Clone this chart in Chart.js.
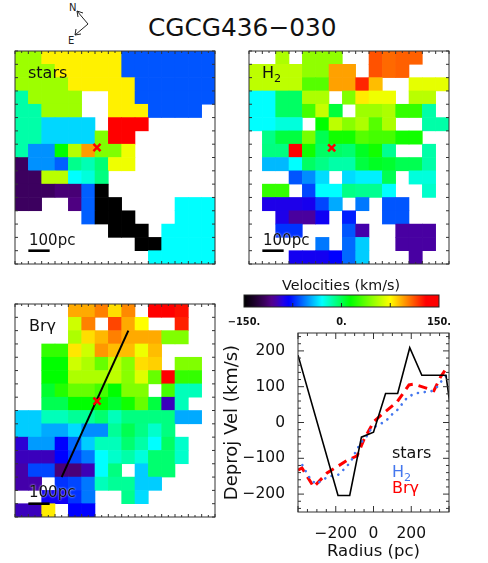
<!DOCTYPE html>
<html>
<head>
<meta charset="utf-8">
<script src="https://cdn.jsdelivr.net/npm/chart.js@4"></script>
<style>
  html, body { margin: 0; padding: 0; background: #fff; }
  body { position: relative; width: 488px; height: 563px; overflow: hidden; font-family: "DejaVu Sans", sans-serif; color: #111; }
  canvas { position: absolute; }
  .lab { position: absolute; white-space: nowrap; line-height: 1; }
  .lab sub { font-size: 70%; line-height: 0; }
  .pc { font-size: 15px; text-shadow: 0 0 2px #fff; }
  svg { position: absolute; left: 0; top: 0; }
</style>
</head>
<body>
<svg width="130" height="48">
  <g fill="none" stroke="#222" stroke-width="1">
    <path d="M88 24 L77 11 M77 11 L83 13 M77 11 L78 17"/>
    <path d="M88 24 L75 35 M75 35 L81 34 M75 35 L76 29"/>
  </g>
  <text x="69" y="11" font-size="10" fill="#222" font-family="DejaVu Sans">N</text>
  <text x="68" y="44" font-size="10" fill="#222" font-family="DejaVu Sans">E</text>
</svg>
<div class="lab" style="left:148px;top:16px;font-size:24.8px;">CGCG436−030</div>

<canvas id="stars"></canvas>
<canvas id="h2"></canvas>
<canvas id="brg"></canvas>
<canvas id="cbar"></canvas>
<canvas id="rot"></canvas>

<div class="lab" style="left:28px;top:65px;font-size:16px;">stars</div>
<div class="lab" style="left:262px;top:65px;font-size:16px;">H<sub>2</sub></div>
<div class="lab" style="left:29px;top:318px;font-size:16px;">Brγ</div>
<div class="lab pc" style="left:29px;top:233px;">100pc</div>
<div class="lab pc" style="left:263px;top:233px;">100pc</div>
<div class="lab pc" style="left:29px;top:485px;">100pc</div>
<div class="lab" style="left:282px;top:278px;font-size:14.3px;">Velocities (km/s)</div>
<div class="lab" style="left:392px;top:445px;font-size:16px;">stars</div>
<div class="lab" style="left:392px;top:464px;font-size:16px;color:#4477ee;">H<sub>2</sub></div>
<div class="lab" style="left:392px;top:480px;font-size:16px;color:#ff0000;">Brγ</div>

<script>
const _ = null;

// velocity maps, 15 columns x 16 rows, top row first (km/s)
const starsMap = [
  [51,51,78,78,78,78,78,78,-64,-64,-64,-64,-64,-64,-64],
  [51,51,51,78,78,78,78,78,-64,-64,-64,-64,-64,-64,-64],
  [51,51,51,51,78,78,78,78,78,-64,-64,-64,-64,-64,-64],
  [-15,51,51,51,51,_,_,78,78,-64,-64,-64,-64,-64,-64],
  [-15,-15,51,51,51,_,_,78,78,78,-64,-64,-64,-64,_],
  [-15,-15,-38,-38,-38,-38,_,130,130,130,_,_,_,_,_],
  [-15,-15,-38,-38,-38,-38,44,130,130,_,_,_,_,_,_],
  [-15,-52,-52,14,57,96,44,44,71,_,_,_,_,_,_],
  [-118,-52,-52,-62,-10,-17,-6,71,71,_,_,_,_,_,_],
  [-118,-118,58,58,-30,-24,-8,_,_,_,_,_,_,_,_],
  [-118,-118,-118,-113,-113,-62,-150,_,_,_,_,_,_,_,_],
  [-118,-118,_,_,-110,-62,-150,-150,_,_,_,_,-30,-30,-30],
  [_,_,_,_,_,-62,-150,-150,-150,_,_,_,-30,-30,-30],
  [_,_,_,_,_,_,_,-150,-150,-150,_,-30,-30,-30,-30],
  [_,_,_,_,_,_,_,_,_,-150,-150,-30,-30,-30,-30],
  [_,_,_,_,_,_,_,_,_,_,-30,-30,-30,-30,-30]
];
const h2Map = [
  [_,_,55,_,48,48,48,_,_,112,107,109,109,_,_],
  [59,59,59,59,48,48,95,95,_,112,107,109,_,_,_],
  [59,59,59,59,34,34,95,95,122,89,_,_,69,69,69],
  [-30,-30,-3,-3,55,55,_,44,79,71,71,_,58,58,_],
  [-30,-30,-3,-3,30,61,4,_,51,51,55,26,26,-15,_],
  [-30,-30,-24,-24,_,14,59,46,55,34,55,_,_,-15,-15],
  [_,-9,3,3,42,0,18,18,34,30,30,18,18,_,_],
  [_,-8,-8,130,18,-3,-3,-5,8,18,-11,_,_,-15,_],
  [_,-44,-44,-30,-3,-9,-15,-15,3,8,6,0,0,-15,_],
  [_,_,_,-64,-53,-37,_,-37,-33,-33,0,_,-24,-24,_],
  [_,26,26,_,-67,-30,-30,-9,-11,-11,-30,_,_,-21,_],
  [_,-89,-89,-89,-87,-67,-47,_,-57,_,-64,-64,_,_,_],
  [_,_,-89,-103,-103,-85,_,-75,_,_,-64,-64,_,_,_],
  [_,_,-71,-71,_,_,_,-64,-100,_,_,-102,-102,-102,_],
  [_,_,_,_,_,-57,_,-60,-40,_,_,-102,-102,-102,_],
  [_,_,_,-86,-86,-86,-81,-60,-40,_,_,_,-102,_,_]
];
const brgMap = [
  [_,_,_,_,93,93,102,82,100,_,130,130,127,_,_],
  [_,_,_,_,63,102,_,115,93,75,_,_,123,_,_],
  [_,_,_,_,55,82,90,102,93,93,93,44,44,_,_],
  [_,_,26,26,80,63,97,89,89,71,89,_,_,_,_],
  [_,_,14,14,63,55,38,59,46,82,85,_,44,44,_],
  [_,_,14,14,55,55,55,59,46,67,38,130,26,26,_],
  [_,_,6,22,38,38,30,14,44,44,_,30,-18,-18,_],
  [_,_,0,0,14,14,14,6,18,38,3,-97,-18,_,_],
  [-40,-40,-18,-18,-12,-12,-5,-18,-8,-8,-8,-8,-47,-47,_],
  [-40,-40,-47,-47,-37,-53,-53,-12,0,-9,-21,-8,_,_,_],
  [-93,-50,-50,-81,-60,-40,-18,-18,-5,-15,-30,-3,-21,_,_],
  [-97,-97,-97,-81,-67,-57,-30,-21,-15,-24,-5,-5,-21,_,_],
  [-100,-67,-67,-112,-112,-98,-30,-8,_,-40,-5,-5,_,_,_],
  [-100,-100,_,-71,-67,-57,-18,-12,-12,-40,-40,_,_,_,_],
  [_,_,-85,-85,-71,-57,_,_,-10,-37,_,_,_,_,_],
  [-97,-97,79,_,-81,-81,_,_,_,_,_,_,_,_,_]
];

// rotation curves
const starsR = [-400,-188,-126,-64,0,64,128,192,256,320,384,404];
const starsV = [188,-204,-204,-41,-27,81,81,209,132,132,132,55];
const h2R = [-377,-356,-331,-302,-273,-232,-189,-157,-122,-87,-64,-37,-12,28,64,90,126,152,179,219,258,311,338,365,395];
const h2V = [-119,-139,-161,-172,-161,-150,-147,-131,-111,-74,-55,-39,-17,-6,3,19,35,52,70,81,84,88,100,119,135];
const brgR = [-400,-379,-317,-246,-140,-87,-51,2,64,126,188,214,285,320,356,382,403];
const brgV = [-133,-127,-180,-141,-106,-93,-48,3,31,58,105,107,95,89,128,148,148];

const radiusTicks = [-200, 0, 200];
const velTicks = [-200, -100, 0, 100, 200];
const cbarTicks = [-150, 0, 150];

// colour table of the velocity scale
const cmapV = [-150,-135,-118,-108,-100,-90,-81,-30,-8,14,44,75,102,130,150];
const cmapC = ['#000000','#1a0028','#3c005f','#52008a','#4400aa','#2200e6','#0000ff','#00ffff','#00ff80','#00ff00','#80ff00','#ffff00','#ff8000','#ff0000','#ff0000'];

function hexRgb(h) {
  return [1, 3, 5].map(i => parseInt(h.substr(i, 2), 16));
}

function velColor(v) {
  let i = 1;
  while (i < cmapV.length - 1 && v > cmapV[i]) i++;
  const t = (v - cmapV[i - 1]) / (cmapV[i] - cmapV[i - 1]);
  const a = hexRgb(cmapC[i - 1]), b = hexRgb(cmapC[i]);
  const c = a.map((x, k) => Math.round(x + (b[k] - x) * t));
  return `rgb(${c[0]},${c[1]},${c[2]})`;
}

// IDL style frame with ticks pointing inwards
const frameTicks = {
  id: 'frameTicks',
  afterDatasetsDraw(chart, args, o) {
    const { ctx, chartArea: a, scales } = chart;
    const sx = scales.x, sy = scales.y;
    ctx.save();
    ctx.strokeStyle = o.color || '#333';
    ctx.lineWidth = 1;
    ctx.beginPath();
    const tick = (x0, y0, x1, y1) => { ctx.moveTo(x0, y0); ctx.lineTo(x1, y1); };
    for (const t of o.x || []) {
      const p = sx.getPixelForValue(t.v);
      tick(p, a.bottom, p, a.bottom - t.len);
      if (o.both) tick(p, a.top, p, a.top + t.len);
    }
    for (const t of o.y || []) {
      const p = sy.getPixelForValue(t.v);
      tick(a.left, p, a.left + t.len, p);
      if (o.both) tick(a.right, p, a.right - t.len, p);
    }
    ctx.stroke();
    ctx.strokeRect(a.left, a.top, a.right - a.left, a.bottom - a.top);
    ctx.restore();
  }
};

function range(from, to, step, majorEvery, major, minor) {
  const out = [];
  for (let v = from, i = 0; v <= to + 1e-6; v += step, i++) {
    out.push({ v: v, len: i % majorEvery === 0 ? major : minor });
  }
  return out;
}

function place(id, left, top, w, h) {
  const c = document.getElementById(id);
  c.width = w; c.height = h;
  c.style.left = left + 'px';
  c.style.top = top + 'px';
  c.style.width = w + 'px';
  c.style.height = h + 'px';
  return c;
}

// stops the tick labels from pushing the frame inwards
function fixAxis(s, size) {
  if (s.isHorizontal()) s.height = size; else s.width = size;
  s.paddingLeft = s.paddingRight = s.paddingTop = s.paddingBottom = 0;
}

function mapChart(id, left, top, rows, marker, slit) {
  const cells = [];
  rows.forEach((row, r) => row.forEach((v, c) => {
    if (v !== null) cells.push({ x: c + 0.5, y: [r, r + 1], v: v });
  }));
  const datasets = [{
    type: 'bar',
    data: cells,
    backgroundColor: ctx => velColor(ctx.raw.v),
    borderWidth: 0,
    barPercentage: 1,
    categoryPercentage: 1,
    inflateAmount: 0.3,
    order: 3
  }, {
    type: 'line',
    data: [{ x: 1, y: 15 }, { x: 2.6, y: 15 }],
    borderColor: '#000',
    borderWidth: 2.6,
    pointRadius: 0,
    order: 1
  }, {
    type: 'scatter',
    data: [marker],
    pointStyle: 'crossRot',
    pointRadius: 5,
    pointBorderColor: '#ff0000',
    pointBorderWidth: 2.5,
    order: 0
  }];
  if (slit) {
    datasets.push({
      type: 'line',
      data: slit,
      borderColor: '#000',
      borderWidth: 2,
      pointRadius: 0,
      order: 2
    });
  }
  new Chart(place(id, left, top, 204, 217), {
    type: 'bar',
    data: { datasets: datasets },
    plugins: [frameTicks],
    options: {
      responsive: false,
      animation: false,
      layout: { padding: 2, autoPadding: false },
      plugins: {
        legend: { display: false },
        tooltip: { enabled: false },
        frameTicks: {
          both: true,
          x: range(0, 15, 0.5, 2, 3, 2),
          y: range(0, 16, 1, 1, 3, 3)
        }
      },
      scales: {
        x: { type: 'linear', min: 0, max: 15, offset: false, display: false, ticks: { stepSize: 1 } },
        y: { type: 'linear', min: 0, max: 16, reverse: true, display: false, ticks: { stepSize: 1 } }
      }
    }
  });
}

mapChart('stars', 13, 49, starsMap, { x: 6.15, y: 7.25 });
mapChart('h2', 247, 49, h2Map, { x: 6.2, y: 7.28 });
mapChart('brg', 13, 302, brgMap, { x: 6.15, y: 7.3 }, [{ x: 3.5, y: 13 }, { x: 8.5, y: 2 }]);

// colour bar
new Chart(place('cbar', 224, 290, 240, 38), {
  type: 'bar',
  data: {
    labels: [''],
    datasets: [{
      data: [[-150, 150]],
      backgroundColor: ctx => {
        const a = ctx.chart.chartArea;
        if (!a) return '#000';
        const g = ctx.chart.ctx.createLinearGradient(a.left, 0, a.right, 0);
        cmapV.forEach((v, i) => g.addColorStop((v + 150) / 300, cmapC[i]));
        return g;
      },
      borderWidth: 0,
      barPercentage: 1,
      categoryPercentage: 1
    }]
  },
  plugins: [frameTicks],
  options: {
    indexAxis: 'y',
    responsive: false,
    animation: false,
    layout: { padding: { left: 20, right: 25, top: 5, bottom: 0 }, autoPadding: false },
    plugins: {
      legend: { display: false },
      tooltip: { enabled: false },
      frameTicks: { x: [-75, 0, 75].map(v => ({ v: v, len: 4 })), color: '#222' }
    },
    scales: {
      x: {
        type: 'linear', min: -150, max: 150,
        grid: { display: false }, border: { display: false },
        afterBuildTicks: s => { s.ticks = cbarTicks.map(v => ({ value: v })); },
        afterFit: s => fixAxis(s, 21),
        ticks: {
          autoSkip: false, maxRotation: 0, padding: 2, color: '#111',
          font: { family: 'DejaVu Sans', size: 9.8, weight: 'bold' },
          callback: v => String(v).replace('-', '−') + '.'
        }
      },
      y: { display: false }
    }
  }
});

// rotation curve panel
const pts = (xs, ys) => xs.map((x, i) => ({ x: x, y: ys[i] }));

new Chart(place('rot', 222, 325, 238, 237), {
  type: 'line',
  data: {
    datasets: [
      { data: pts(starsR, starsV), borderColor: '#000', borderWidth: 1.6, pointRadius: 0, tension: 0 },
      { data: pts(h2R, h2V), borderColor: '#4477ee', borderWidth: 2.6, borderDash: [0.1, 6.8], borderCapStyle: 'round', pointRadius: 0, tension: 0 },
      { data: pts(brgR, brgV), borderColor: '#ff0000', borderWidth: 3, borderDash: [9, 6], pointRadius: 0, tension: 0 }
    ]
  },
  plugins: [frameTicks],
  options: {
    responsive: false,
    animation: false,
    layout: { padding: { top: 8, right: 11, left: 0, bottom: 0 }, autoPadding: false },
    plugins: {
      legend: { display: false },
      tooltip: { enabled: false },
      frameTicks: {
        both: true,
        x: range(-400, 400, 50, 4, 6, 3),
        y: range(-240, 240, 20, 100, 3, 3).map(t => ({ v: t.v, len: t.v % 100 === 0 ? 6 : 3 }))
      }
    },
    scales: {
      x: {
        type: 'linear', min: -400, max: 400,
        grid: { display: false }, border: { display: false },
        afterBuildTicks: s => { s.ticks = radiusTicks.map(v => ({ value: v })); },
        afterFit: s => fixAxis(s, 50),
        title: { display: true, text: 'Radius (pc)', color: '#111', font: { family: 'DejaVu Sans', size: 16.5 }, padding: { top: 0, bottom: 0 } },
        ticks: {
          autoSkip: false, maxRotation: 0, padding: 5, color: '#111',
          font: { family: 'DejaVu Sans', size: 15.5 },
          callback: v => String(v).replace('-', '−')
        }
      },
      y: {
        type: 'linear', min: -250, max: 250,
        grid: { display: false }, border: { display: false },
        afterBuildTicks: s => { s.ticks = velTicks.map(v => ({ value: v })); },
        afterFit: s => fixAxis(s, 76),
        title: { display: true, text: 'Deproj Vel (km/s)', color: '#111', font: { family: 'DejaVu Sans', size: 18 }, padding: { top: 0, bottom: 0 } },
        ticks: {
          autoSkip: false, padding: 5, color: '#111',
          font: { family: 'DejaVu Sans', size: 15.5 },
          callback: v => String(v).replace('-', '−')
        }
      }
    }
  }
});
</script>
</body>
</html>
